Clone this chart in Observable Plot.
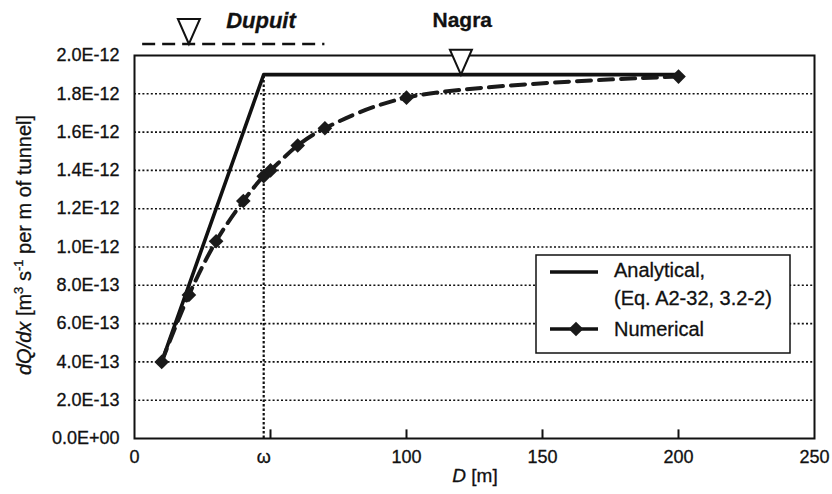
<!DOCTYPE html>
<html>
<head>
<meta charset="utf-8">
<script src="https://cdn.jsdelivr.net/npm/d3@7"></script>
<script src="https://cdn.jsdelivr.net/npm/@observablehq/plot@0.6"></script>
<style>
  html, body { margin: 0; padding: 0; background: #fff; }
  #chart svg { display: block; }
  #chart svg text { stroke: #111; stroke-width: 0.3px; }
</style>
</head>
<body>
<div id="chart"></div>
<script>
// ---- data ----
const OMEGA = 47.5;
const analyticalD = [10, OMEGA, 200];
const analyticalQ = [4.0e-13, 1.9e-12, 1.9e-12];

const numericalD = [10, 20, 30, 40, OMEGA, 50, 60, 70, 100, 200];
const numericalQ = [4.0e-13, 7.5e-13, 1.03e-12, 1.24e-12, 1.37e-12, 1.40e-12, 1.53e-12, 1.62e-12, 1.78e-12, 1.89e-12];

const yTickValues = [0, 2e-13, 4e-13, 6e-13, 8e-13, 1e-12, 1.2e-12, 1.4e-12, 1.6e-12, 1.8e-12, 2e-12];
const yTickLabels = ["0.0E+00", "2.0E-13", "4.0E-13", "6.0E-13", "8.0E-13", "1.0E-12", "1.2E-12", "1.4E-12", "1.6E-12", "1.8E-12", "2.0E-12"];
const gridValues = [2e-13, 4e-13, 6e-13, 8e-13, 1e-12, 1.2e-12, 1.4e-12, 1.6e-12, 1.8e-12];
const xTickValues = [0, OMEGA, 100, 150, 200, 250];
const xTickLabels = ["0", "ω", "100", "150", "200", "250"];
const xTickMarks = [50, 100, 150, 200];

const dupuitD = 20, dupuitLevel = 2.06e-12, dupuitLineFrom = 3, dupuitLineTo = 70;
const nagraD = 120, nagraLevel = 1.9e-12;
const dupuitLabel = {t: "Dupuit", D: 46.5, Q: 2.18e-12};
const nagraLabel = {t: "Nagra", D: 120.5, Q: 2.185e-12};

const legendLabels = ["Analytical,", "(Eq. A2-32, 3.2-2)", "Numerical"];

// ---- build tables ----
const analytical = analyticalD.map((d, i) => ({D: d, Q: analyticalQ[i]}));
const numerical = numericalD.map((d, i) => ({D: d, Q: numericalQ[i]}));
const yLab = new Map(yTickValues.map((v, i) => [v, yTickLabels[i]]));
const xLab = new Map(xTickValues.map((v, i) => [v, xTickLabels[i]]));

const INK = "#111";
const FONT = "'Liberation Sans', Arial, Helvetica, sans-serif";

// down-pointing triangle with its apex at the anchor point
const downTriangle = {
  draw(ctx) {
    ctx.moveTo(0, 0);
    ctx.lineTo(-11, -25);
    ctx.lineTo(11, -25);
    ctx.closePath();
  }
};

const chart = Plot.plot({
  width: 832,
  height: 494,
  marginLeft: 134,
  marginRight: 18,
  marginTop: 55,
  marginBottom: 56,
  style: {fontFamily: FONT, color: INK, background: "#fff", overflow: "visible"},
  x: {domain: [0, 250]},
  y: {domain: [0, 2e-12]},
  marks: [
    Plot.ruleY(gridValues, {x1: 0, x2: 250, stroke: INK, strokeWidth: 1.6, strokeDasharray: "2,2.2"}),
    Plot.ruleX([OMEGA], {y1: 0, y2: 1.9e-12, stroke: INK, strokeWidth: 2.2, strokeDasharray: "2.5,2"}),
    Plot.ruleX(xTickMarks, {y1: 0, y2: 0.045e-12, stroke: INK, strokeWidth: 2}),
    Plot.frame({stroke: INK, strokeWidth: 2}),
    Plot.axisY(yTickValues, {tickSize: 0, tickPadding: 15, fontSize: 18, label: null, tickFormat: d => yLab.get(d)}),
    Plot.axisX(xTickValues, {tickSize: 0, tickPadding: 12, fontSize: 18, label: null, tickFormat: d => xLab.get(d)}),
    Plot.line(analytical, {x: "D", y: "Q", stroke: INK, strokeWidth: 3.6}),
    Plot.line(numerical, {x: "D", y: "Q", stroke: "#1a1a1a", strokeWidth: 4, strokeDasharray: "14,8", curve: "catmull-rom"}),
    Plot.dot(numerical, {x: "D", y: "Q", symbol: "diamond2", r: 6.6, fill: "#1a1a1a", stroke: "none"}),
    Plot.ruleY([dupuitLevel], {x1: dupuitLineFrom, x2: dupuitLineTo, stroke: INK, strokeWidth: 2.5, strokeDasharray: "13,7", clip: false}),
    Plot.dot([{D: dupuitD, Q: dupuitLevel}], {x: "D", y: "Q", symbol: downTriangle, r: 5, fill: "#fff", stroke: INK, strokeWidth: 2}),
    Plot.dot([{D: nagraD, Q: nagraLevel}], {x: "D", y: "Q", symbol: downTriangle, r: 5, fill: "#fff", stroke: INK, strokeWidth: 2}),
    Plot.text([dupuitLabel], {x: "D", y: "Q", text: "t", fontSize: 22, fontWeight: "bold", fontStyle: "italic", fill: INK}),
    Plot.text([nagraLabel], {x: "D", y: "Q", text: "t", fontSize: 21, fontWeight: "bold", fill: INK})
  ]
});

document.getElementById("chart").appendChild(chart);

// ---- axis titles and legend (real text) ----
const svg = d3.select(chart);

const yTitle = svg.append("text")
  .attr("transform", "translate(31,245) rotate(-90)")
  .attr("text-anchor", "middle")
  .attr("font-size", 20)
  .attr("fill", INK);
yTitle.append("tspan").attr("font-style", "italic").text("dQ/dx");
yTitle.append("tspan").text(" [m");
yTitle.append("tspan").attr("font-size", 13).attr("dy", -8).text("3");
yTitle.append("tspan").attr("dy", 8).text(" s");
yTitle.append("tspan").attr("font-size", 13).attr("dy", -8).text("-1");
yTitle.append("tspan").attr("dy", 8).text(" per m of tunnel]");

const xTitle = svg.append("text")
  .attr("x", 475).attr("y", 482)
  .attr("text-anchor", "middle")
  .attr("font-size", 19)
  .attr("fill", INK);
xTitle.append("tspan").attr("font-style", "italic").text("D");
xTitle.append("tspan").text(" [m]");

const lg = svg.append("g").attr("font-size", 20).attr("fill", INK).attr("text-anchor", "start");
lg.append("rect").attr("x", 536).attr("y", 255).attr("width", 254).attr("height", 98)
  .attr("fill", "#fff").attr("stroke", INK).attr("stroke-width", 1.5);
lg.append("line").attr("x1", 550).attr("x2", 598).attr("y1", 272).attr("y2", 272)
  .attr("stroke", INK).attr("stroke-width", 3.6);
lg.append("text").attr("x", 614).attr("y", 277).text(legendLabels[0]);
lg.append("text").attr("x", 614).attr("y", 305).text(legendLabels[1]);
lg.append("line").attr("x1", 550).attr("x2", 598).attr("y1", 329).attr("y2", 329)
  .attr("stroke", INK).attr("stroke-width", 3.6);
lg.append("path").attr("d", d3.symbol(d3.symbolDiamond2, Math.PI * 6.6 * 6.6)())
  .attr("transform", "translate(576,329)").attr("fill", "#1a1a1a");
lg.append("text").attr("x", 614).attr("y", 336).text(legendLabels[2]);
</script>
</body>
</html>
